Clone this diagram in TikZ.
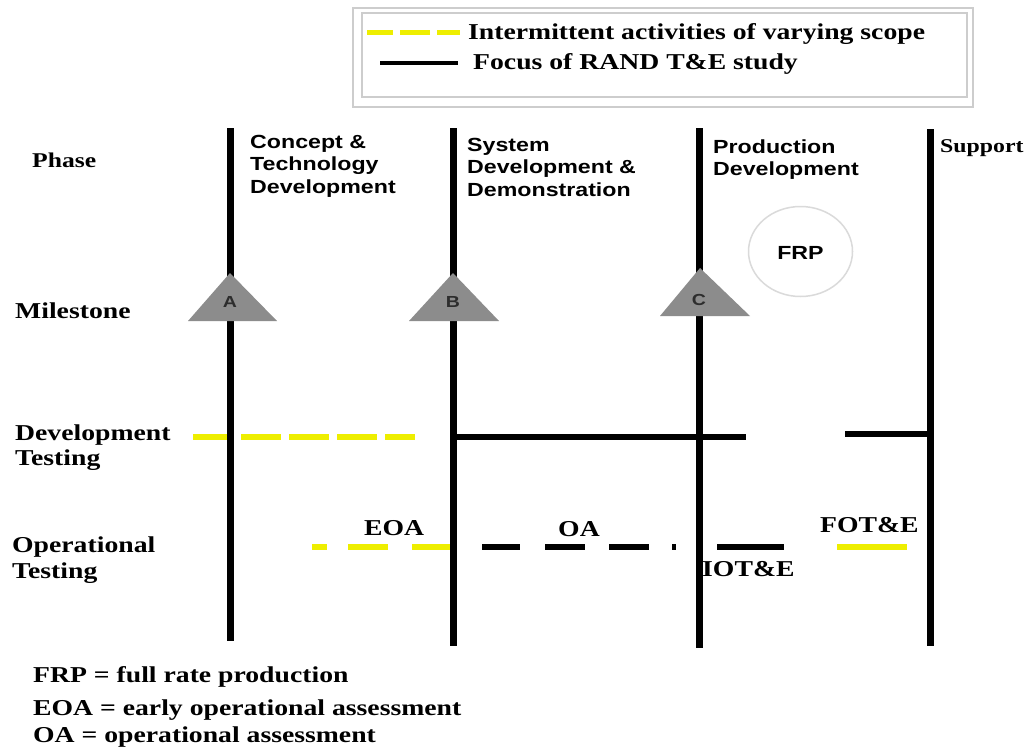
\documentclass[tikz,border=0pt]{standalone}
\usepackage{fontspec}
\setmainfont{Liberation Serif}
\setsansfont{Liberation Sans}
% all lettering is set slightly wide
\newcommand\hstretch[1]{\scalebox{1.22}[1]{#1}}
\definecolor{hiyellow}{RGB}{238,238,0}
\definecolor{msgray}{RGB}{140,140,140}
\definecolor{framegray}{RGB}{205,205,205}
\definecolor{ringgray}{RGB}{218,218,218}
\definecolor{lettergray}{RGB}{45,45,45}

\begin{document}
\begin{tikzpicture}[x=1pt,y=-1pt,
  serif/.style={font=\rmfamily\bfseries\fontsize{22.7}{26}\selectfont, inner sep=0pt, anchor=base west},
  sans/.style={font=\sffamily\bfseries\fontsize{19}{22.5}\selectfont, inner sep=0pt, anchor=base west},
  phaseline/.style={line width=7pt, black},
  yel/.style={line width=6pt, hiyellow},
  blk/.style={line width=6pt, black},
  milestone/.style={fill=msgray, draw=none},
  mletter/.style={font=\sffamily\bfseries\fontsize{16}{18}\selectfont, text=lettergray, inner sep=0pt},
]
\useasboundingbox (0,0) rectangle (1024,747);
\fill[white] (0,0) rectangle (1024,747);

% ---------- legend ----------
\draw[framegray, line width=1.3pt] (353,8) rectangle (973,107);
\draw[framegray, line width=1.1pt] (362,13) rectangle (967,97);
\foreach \a/\b in {367/393, 400/430, 437/460}
  \draw[hiyellow, line width=5pt] (\a,32) -- (\b,32);
\coordinate (lgk1) at (380,63);
\coordinate (lgk2) at (458,63);
\draw[black, line width=4pt] (lgk1) -- (lgk2);
\node[serif] (lgA) at (468,39) {\hstretch{Intermittent activities of varying scope}};
\node[serif] (lgB) at (473,69) {\hstretch{Focus of RAND T\&E study}};

% ---------- row labels ----------
\node[serif, font=\rmfamily\bfseries\fontsize{21}{24}\selectfont] (phase) at (32,167) {\hstretch{Phase}};
\node[serif] (mile) at (15,318) {\hstretch{Milestone}};
\node[serif] (dt1) at (15,440) {\hstretch{Development}};
\node[serif] (dt2) at (15,465) {\hstretch{Testing}};
\node[serif] (ot1) at (12,552) {\hstretch{Operational}};
\node[serif] (ot2) at (12,578) {\hstretch{Testing}};

% ---------- phase names ----------
\node[sans] (pA1) at (250,148) {\hstretch{Concept \&}};
\node[sans] (pA2) at (250,170) {\hstretch{Technology}};
\node[sans] (pA3) at (250,193) {\hstretch{Development}};
\node[sans] (pB1) at (467,151) {\hstretch{System}};
\node[sans] (pB2) at (467,173.5) {\hstretch{Development \&}};
\node[sans] (pB3) at (467,196) {\hstretch{Demonstration}};
\node[sans] (pC1) at (713,153) {\hstretch{Production}};
\node[sans] (pC2) at (713,175.5) {\hstretch{Development}};
\node[serif, font=\rmfamily\bfseries\fontsize{19.5}{22}\selectfont] (pD1) at (940,152) {\hstretch{Support}};

% full rate production marker
\draw[ringgray, line width=1.5pt] (800.5,251.5) ellipse [x radius=52, y radius=45];
\node[sans, anchor=center] (frp) at (800.5,253) {\hstretch{FRP}};

% ---------- development testing ----------
\foreach \a/\b in {193/233, 241/281, 289/329, 337/377, 385/415}
  \draw[yel] (\a,437) -- (\b,437);
\coordinate (dtB) at (453,437);
\coordinate (dtE) at (746,437);
\draw[blk] (dtB) -- (dtE);
\coordinate (dtF) at (845,434);
\coordinate (dtS) at (930,434);
\draw[blk] (dtF) -- (dtS);

% ---------- operational testing ----------
\foreach \a/\b in {312/327, 348/388, 412/453}
  \draw[yel] (\a,547) -- (\b,547);
\foreach \a/\b in {482/520, 545/585, 609/649, 672/676}
  \draw[blk] (\a,547) -- (\b,547);
\coordinate (iotA) at (717,547);
\coordinate (iotB) at (784,547);
\draw[blk] (iotA) -- (iotB);
\coordinate (fotA) at (837,547);
\coordinate (fotB) at (907,547);
\draw[yel] (fotA) -- (fotB);

\node[serif] (eoa) at (364,535) {\hstretch{EOA}};
\node[serif] (oa) at (558,536) {\hstretch{OA}};
\node[serif] (iote) at (702,576) {\hstretch{IOT\&E}};
\node[serif] (fote) at (820,532) {\hstretch{FOT\&E}};

% ---------- phase boundaries ----------
\coordinate (At) at (230,128);  \coordinate (Ab) at (230,641);
\coordinate (Bt) at (453,128);  \coordinate (Bb) at (453,646);
\coordinate (Ct) at (699,128);  \coordinate (Cb) at (699,648);
\coordinate (Dt) at (930,129);  \coordinate (Db) at (930,646);
\draw[phaseline] (At) -- (Ab);
\draw[phaseline] (Bt) -- (Bb);
\draw[phaseline] (Ct) -- (Cb);
\draw[phaseline] (Dt) -- (Db);

% ---------- milestones ----------
\fill[milestone] (230,273) -- (277,321) -- (188,321) -- cycle;
\fill[milestone] (453,273) -- (499,321) -- (409,321) -- cycle;
\fill[milestone] (700,268) -- (750,316) -- (660,316) -- cycle;
\node[mletter] (mA) at (230,302) {\hstretch{A}};
\node[mletter] (mB) at (453,302) {\hstretch{B}};
\node[mletter] (mC) at (699,300) {\hstretch{C}};

% ---------- abbreviations ----------
\node[serif] (ab1) at (33,682) {\hstretch{FRP = full rate production}};
\node[serif] (ab2) at (33,715) {\hstretch{EOA = early operational assessment}};
\node[serif] (ab3) at (33,742) {\hstretch{OA = operational assessment}};
\end{tikzpicture}
\end{document}
